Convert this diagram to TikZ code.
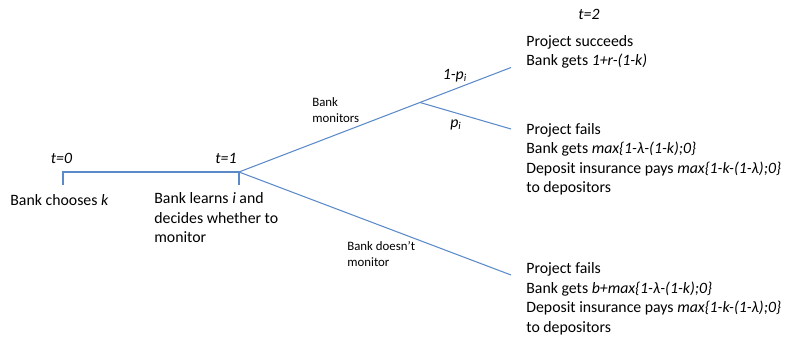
\documentclass[tikz,border=0pt]{standalone}
\usepackage{fontspec}
\setmainfont{Carlito}
\usepackage{tikz}
\usetikzlibrary{positioning}
\definecolor{branchblue}{RGB}{91,138,201}

\begin{document}
\begin{tikzpicture}[x=0.02cm,y=-0.02cm,
    branch/.style={draw=branchblue,line width=0.6pt},
    outcome/.style={anchor=west,align=left,inner sep=0pt,font=\fontsize{9}{11.1}\selectfont},
    timelbl/.style={inner sep=0pt,font=\fontsize{9}{11.1}\selectfont\itshape},
    small/.style={anchor=west,align=left,inner sep=0pt,font=\fontsize{7.3}{9.1}\selectfont}]
  \useasboundingbox (0,0) rectangle (790,337);
  % time line and tree
  \coordinate (t0) at (63,172);
  \coordinate (t1) at (239,172);
  \coordinate (t0b) at (63,185);
  \coordinate (t1b) at (239,185);
  \coordinate (mon) at (420,102.5);
  \coordinate (succ) at (511,67.5);
  \coordinate (fail) at (511,129);
  \coordinate (nomon) at (511,275);
  \draw[branch] (t0b)--(t0)--(t1)--(t1b);
  \draw[branch] (t1)--(succ);
  \draw[branch] (mon)--(fail);
  \draw[branch] (t1)--(nomon);
  % dates
  \node[timelbl] (d0) at (61.5,158) {t=0};
  \node[timelbl] (d1) at (226,158) {t=1};
  \node[timelbl] (d2) at (589,14) {t=2};
  % choices
  \node[outcome] (choose) at (10,200) {Bank chooses \textit{k}};
  \node[outcome] (learn) at (154,218) {Bank learns \textit{i} and\\decides whether to\\monitor};
  \node[small] (monlbl) at (312,110) {Bank\\monitors};
  \node[small] (nomonlbl) at (347,254.5) {Bank doesn’t\\monitor};
  \node[timelbl] (psucc) at (455,76) {1-p\textsubscript{i}};
  \node[timelbl] (pfail) at (456,125) {p\textsubscript{i}};
  % outcomes at t=2
  \node[outcome] (succeeds) at (526,52) {Project succeeds\\Bank gets \textit{1+r-(1-k)}};
  \node[outcome] (fails) at (526,159.5) {Project fails\\Bank gets \textit{max\{1-λ-(1-k);0\}}\\Deposit insurance pays \textit{max\{1-k-(1-λ);0\}}\\to depositors};
  \node[outcome] (failsnm) at (526,299) {Project fails\\Bank gets \textit{b+max\{1-λ-(1-k);0\}}\\Deposit insurance pays \textit{max\{1-k-(1-λ);0\}}\\to depositors};
\end{tikzpicture}
\end{document}
